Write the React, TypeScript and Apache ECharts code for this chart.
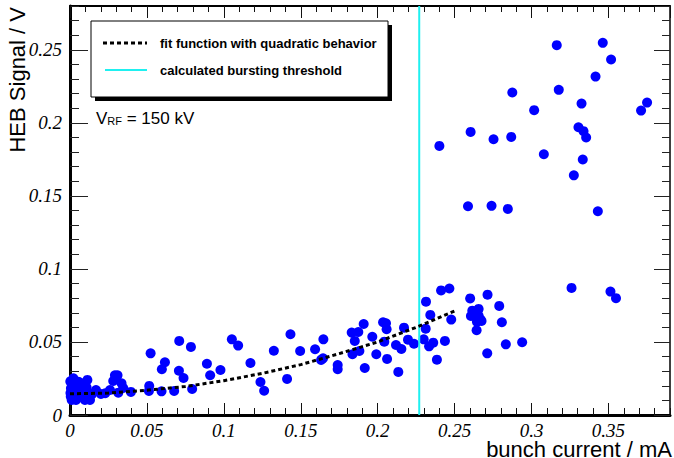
import React, { useEffect, useRef } from "react";
import * as echarts from "echarts";

// Scatter measurements: bunch current (mA) and HEB signal (V)
const bunchCurrent = [
  0.3164, 0.3463, 0.3517, 0.3416, 0.2875, 0.3177, 0.3325, 0.3751, 0.3712, 0.3017,
  0.2604, 0.2753, 0.2868, 0.2401, 0.3305, 0.3338, 0.3355, 0.308, 0.3333, 0.3275,
  0.2587, 0.274, 0.2846, 0.3431,
  0.326, 0.3513, 0.3549, 0.2466, 0.2412, 0.2314, 0.2601, 0.2714, 0.279, 0.2615,
  0.2656, 0.2606, 0.2656, 0.2667, 0.2645, 0.2675, 0.2807, 0.2478, 0.2342, 0.2312,
  0.2643, 0.2299, 0.2361, 0.2334, 0.2437, 0.2385, 0.2712, 0.2833, 0.2939, 0.2236,
  0.2197, 0.2171, 0.2154, 0.2119, 0.2134, 0.2061, 0.2043, 0.2058, 0.2054, 0.2035,
  0.1991, 0.1965, 0.1909, 0.1916, 0.1881, 0.1874, 0.1831, 0.1851, 0.1836, 0.174,
  0.174,
  0.1433, 0.1647, 0.1052, 0.1093, 0.071, 0.0786, 0.1325, 0.1496, 0.1593, 0.1645,
  0.1632, 0.1173, 0.089, 0.0911, 0.0978, 0.0617, 0.0597, 0.0708, 0.0738, 0.0794,
  0.0677, 0.0595, 0.1238, 0.1262, 0.1411,
  0.0524, 0.0515, 0.0513, 0.0396, 0.0314, 0.0335, 0.0346, 0.0281, 0.0292, 0.0309,
  0.026, 0.0229, 0.0201, 0.0169, 0.013, 0.0113, 0.0076, 0.0143,
  0.0022, 0.0011, 0.0054, 0.0006, 0.0005, 0.0011, 0.0039, 0.0065, 0.0097, 0.0087,
  0.0108, 0.0032, 0.0065, 0.0108, 0.0003, 0.002, 0.0045, 0.003, 0.0075, 0.0002,
];
const hebSignal = [
  0.2532, 0.2548, 0.2434, 0.2317, 0.2208, 0.2226, 0.2132, 0.2139, 0.2084, 0.2087,
  0.1938, 0.1888, 0.1904, 0.1842, 0.197, 0.1943, 0.19, 0.1785, 0.1749, 0.1641,
  0.1429, 0.1432, 0.1411, 0.1395,
  0.087, 0.0845, 0.08, 0.0866, 0.0853, 0.0776, 0.0798, 0.0824, 0.0747, 0.0714,
  0.0726, 0.0678, 0.068, 0.0655, 0.0639, 0.0644, 0.0635, 0.0653, 0.0685, 0.0591,
  0.058, 0.0518, 0.0495, 0.047, 0.0507, 0.0379, 0.0422, 0.0484, 0.0498, 0.0488,
  0.0516, 0.0598, 0.0452, 0.0479, 0.0295, 0.0384, 0.0502, 0.0587, 0.0628, 0.0635,
  0.0416, 0.0536, 0.0623, 0.0322, 0.0438, 0.0568, 0.0564, 0.0507, 0.0416, 0.0342,
  0.0313,
  0.0553, 0.0518, 0.0518, 0.0475, 0.0507, 0.0466, 0.044, 0.0438, 0.045, 0.0388,
  0.0377, 0.0356, 0.0351, 0.0272, 0.0308, 0.0361, 0.0313, 0.0303, 0.0253, 0.0178,
  0.0164, 0.0162, 0.0226, 0.0166, 0.0247,
  0.0422, 0.0199, 0.0164, 0.0158, 0.0153, 0.0217, 0.0185, 0.0233, 0.0272, 0.0272,
  0.0171, 0.0149, 0.0144, 0.0171, 0.0103, 0.024, 0.0217, 0.0142,
  0.0251, 0.0217, 0.0228, 0.0183, 0.0126, 0.0103, 0.0103, 0.0126, 0.0103, 0.0171,
  0.0137, 0.0171, 0.0183, 0.0189, 0.015, 0.014, 0.0145, 0.0205, 0.015, 0.023,
];

// Fit function with quadratic behaviour
const fitCurrent = [0, 0.025, 0.05, 0.075, 0.1, 0.125, 0.15, 0.175, 0.2, 0.225, 0.25];
const fitSignal = [0.0145, 0.015, 0.017, 0.0195, 0.0235, 0.0285, 0.0345, 0.042, 0.05, 0.06, 0.0712];

// Calculated bursting threshold (mA)
const thresholdCurrent = 0.227;

// Axis ranges and tick steps
const xRange = [0, 0.39];
const yRange = [0, 0.28];
const majorStep = 0.05;
const minorStep = 0.01;

const legendLabels = ["fit function with quadratic behavior", "calculated bursting threshold"];
const xTitle = "bunch current / mA";
const yTitle = "HEB Signal / V";

export default function App() {
  const ref = useRef<HTMLDivElement>(null);

  useEffect(() => {
    if (!ref.current) return;
    const chart = echarts.init(ref.current, null, { renderer: "svg" });

    const labelStyle = {
      fontFamily: "Liberation Serif",
      fontStyle: "italic",
      fontSize: 19,
      color: "#000",
    };

    const mkX = (position: string, interval: number, tickLen: number, showLabel: boolean, lineWidth: number) => ({
      type: "value",
      gridIndex: 0,
      position,
      min: xRange[0],
      max: xRange[1],
      interval,
      axisLine: { show: lineWidth > 0, onZero: false, lineStyle: { color: "#000", width: lineWidth } },
      axisTick: { show: true, inside: true, length: tickLen, lineStyle: { color: "#111", width: 1 } },
      axisLabel: { show: showLabel, ...labelStyle, lineHeight: 16, margin: 7, showMaxLabel: false, hideOverlap: false },
      splitLine: { show: false },
      minorTick: { show: false },
    });
    const mkY = (position: string, interval: number, tickLen: number, showLabel: boolean, lineWidth: number) => ({
      type: "value",
      gridIndex: 0,
      position,
      min: yRange[0],
      max: yRange[1],
      interval,
      axisLine: { show: lineWidth > 0, onZero: false, lineStyle: { color: "#000", width: lineWidth } },
      axisTick: { show: true, inside: true, length: tickLen, lineStyle: { color: "#222", width: 1 } },
      axisLabel: { show: showLabel, ...labelStyle, margin: 8, showMaxLabel: false, hideOverlap: false },
      splitLine: { show: false },
      minorTick: { show: false },
    });

    const scatterData = bunchCurrent.map((x, i) => [x, hebSignal[i]]);
    const fitData = fitCurrent.map((x, i) => [x, fitSignal[i]]);
    const thresholdData = [
      [thresholdCurrent, yRange[0]],
      [thresholdCurrent, yRange[1]],
    ];

    chart.setOption({
      animation: false,
      backgroundColor: "#fff",
      grid: { left: 70, right: 4, top: 6, bottom: 43, containLabel: false },
      xAxis: [
        mkX("bottom", majorStep, 12, true, 3),
        mkX("bottom", minorStep, 7, false, 0),
        mkX("top", majorStep, 12, false, 2),
        mkX("top", minorStep, 6, false, 0),
      ],
      yAxis: [
        mkY("left", majorStep, 18, true, 3),
        mkY("left", minorStep, 9, false, 0),
        mkY("right", majorStep, 16, false, 1.5),
        mkY("right", minorStep, 8, false, 0),
      ],
      series: [
        {
          type: "scatter",
          xAxisIndex: 0,
          yAxisIndex: 0,
          data: scatterData,
          symbol: "circle",
          symbolSize: 10,
          itemStyle: { color: "#0000ff", opacity: 1 },
          z: 2,
        },
        {
          type: "line",
          xAxisIndex: 0,
          yAxisIndex: 0,
          data: thresholdData,
          showSymbol: false,
          symbol: "none",
          lineStyle: { color: "#1ff0f0", width: 2 },
          z: 3,
        },
        {
          type: "line",
          xAxisIndex: 0,
          yAxisIndex: 0,
          data: fitData,
          showSymbol: false,
          symbol: "none",
          smooth: false,
          lineStyle: { color: "#000", width: 3, type: [4, 3], cap: "butt" },
          z: 4,
        },
      ],
      graphic: [
        {
          type: "text",
          x: 672,
          y: 449,
          z: 100,
          style: {
            text: xTitle,
            fontFamily: "Liberation Sans",
            fontSize: 22,
            lineHeight: 18,
            fill: "#000",
            align: "right",
            verticalAlign: "middle",
          },
        },
        {
          type: "text",
          x: 17,
          y: 7,
          rotation: Math.PI / 2,
          z: 100,
          style: {
            text: yTitle,
            fontFamily: "Liberation Sans",
            fontSize: 22,
            fill: "#000",
            align: "right",
            verticalAlign: "middle",
          },
        },
        // legend shadow and box
        {
          type: "rect",
          z: 100,
          shape: { x: 95, y: 25, width: 297, height: 76 },
          style: { fill: "#000" },
        },
        {
          type: "rect",
          z: 101,
          shape: { x: 91, y: 21, width: 297, height: 76 },
          style: { fill: "#fff", stroke: "#000", lineWidth: 1 },
        },
        {
          type: "line",
          z: 102,
          shape: { x1: 103, y1: 43, x2: 147, y2: 43 },
          style: { stroke: "#000", lineWidth: 3, lineDash: [4, 3] },
        },
        {
          type: "text",
          x: 160,
          y: 43,
          z: 102,
          style: {
            text: legendLabels[0],
            fontFamily: "Liberation Sans",
            fontWeight: "bold",
            fontSize: 13,
            fill: "#000",
            align: "left",
            verticalAlign: "middle",
          },
        },
        {
          type: "line",
          z: 102,
          shape: { x1: 105, y1: 70, x2: 147, y2: 70 },
          style: { stroke: "#1ff0f0", lineWidth: 2 },
        },
        {
          type: "text",
          x: 160,
          y: 70,
          z: 102,
          style: {
            text: legendLabels[1],
            fontFamily: "Liberation Sans",
            fontWeight: "bold",
            fontSize: 13,
            fill: "#000",
            align: "left",
            verticalAlign: "middle",
          },
        },
        {
          type: "text",
          x: 96,
          y: 118,
          z: 102,
          style: {
            text: "{v|V}{s|RF}{n| = 150 kV}",
            fill: "#000",
            align: "left",
            verticalAlign: "middle",
            rich: {
              v: { fontFamily: "Liberation Sans", fontSize: 17, fill: "#000", verticalAlign: "bottom" },
              s: { fontFamily: "Liberation Sans", fontSize: 11, fill: "#000", verticalAlign: "bottom" },
              n: { fontFamily: "Liberation Sans", fontSize: 17, fill: "#000", verticalAlign: "bottom" },
            },
          },
        },
      ],
    });

    return () => {
      chart.dispose();
    };
  }, []);

  return (
    <div
      ref={ref}
      style={{ position: "absolute", left: 0, top: 0, width: 674, height: 458 }}
    />
  );
}
